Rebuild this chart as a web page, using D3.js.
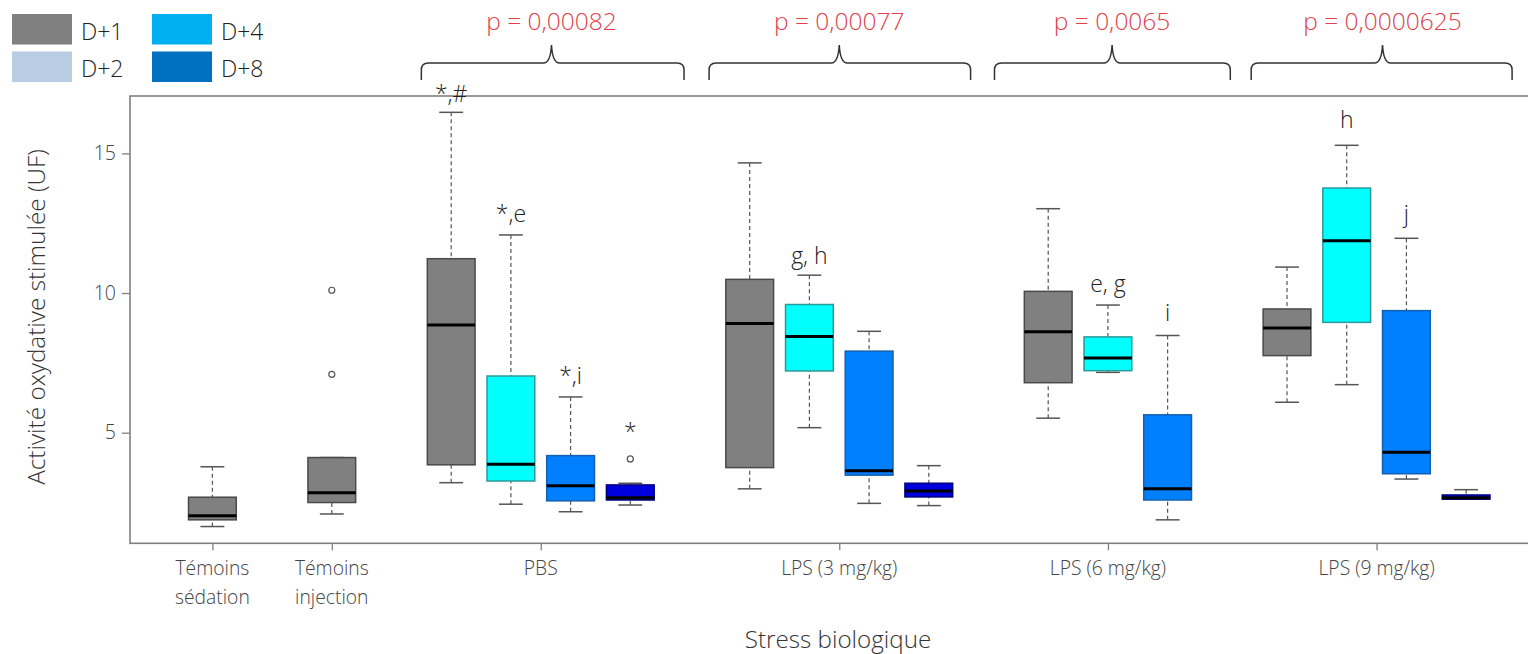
<!DOCTYPE html>
<html><head><meta charset="utf-8">
<script src="https://cdn.jsdelivr.net/npm/d3@7"></script>
<style>
html,body{margin:0;padding:0;background:#fff;}
svg{display:block;font-family:"Open Sans","Noto Sans",sans-serif;font-weight:300;}
</style></head>
<body><svg id="c" width="1528" height="654"></svg>
<script>
// ---- data ----
const groupLabels = [["Témoins","sédation"],["Témoins","injection"],["PBS"],["LPS (3 mg/kg)"],["LPS (6 mg/kg)"],["LPS (9 mg/kg)"]];
const groupTickSlot = [0, 2, 5.5, 10.5, 15, 19.5];
const legendNames = ["D+1","D+2","D+4","D+8"];
const legendColors = ["#808080","#B8CCE4","#00B0F0","#0070C0"];
const boxSlot   = [0, 2, 4, 5, 6, 7, 9, 10, 11, 12, 14, 15, 16, 18, 19, 20, 21];
const boxSeries = [0, 0, 0, 1, 2, 3, 0, 1, 2, 3, 0, 1, 2, 0, 1, 2, 3];
const whiskerLow  = [1.64, 2.09, 3.21, 2.44, 2.17, 2.41, 2.99, 5.18, 2.47, 2.39, 5.52, 7.16, 1.88, 6.09, 6.72, 3.34, 2.62];
const q1          = [1.88, 2.50, 3.85, 3.27, 2.56, 2.59, 3.75, 7.21, 3.48, 2.70, 6.79, 7.22, 2.59, 7.76, 8.95, 3.53, 2.62];
const median      = [2.03, 2.85, 8.86, 3.87, 3.10, 2.67, 8.91, 8.44, 3.64, 2.91, 8.61, 7.67, 2.99, 8.75, 11.87, 4.30, 2.67];
const q3          = [2.69, 4.11, 11.23, 7.03, 4.18, 3.13, 10.49, 9.59, 7.92, 3.19, 10.06, 8.43, 5.64, 9.43, 13.76, 9.37, 2.77];
const whiskerHigh = [3.78, 4.11, 16.47, 12.08, 6.28, 3.19, 14.66, 10.64, 8.63, 3.82, 13.02, 9.57, 8.48, 10.93, 15.29, 11.96, 2.96];
const outliers    = [[], [7.09, 10.10], [], [], [], [4.06], [], [], [], [], [], [], [], [], [], [], []];
const annotText   = ["*,#", "*,e", "*,i", "*", "g, h", "e, g", "i", "h", "j"];
const annotSlot   = [4, 5, 6, 7, 10, 15, 16, 19, 20];
const annotValue  = [16.85, 12.55, 6.75, 4.75, 11.05, 10.05, 9.0, 15.9, 12.55];
const pTexts      = ["p = 0,00082", "p = 0,00077", "p = 0,0065", "p = 0,0000625"];
const braceStart  = [3.5, 8.32, 13.1, 17.4];
const braceEnd    = [7.9, 12.7, 17.05, 21.77];
const braceTip    = [5.68, 10.5, 15.07, 19.6];
const yTicks = [5, 10, 15];

// ---- styles ----
const boxFill   = ["#808080", "#00FFFF", "#0080FF", "#0000DD"];
const boxStroke = ["#4a4a4a", "#2a9a9a", "#1460b0", "#000080"];

const svg = d3.select("#c");
const x = d3.scaleLinear().domain([-1.38, 22.07]).range([130, 1530]);
const y = d3.scaleLinear().domain([1.04, 17.055]).range([543.3, 96]);
const bw = x(0.4) - x(0);   // half box width
const cw = x(0.2) - x(0);   // half cap width

// frame
svg.append("rect").attr("x", 130).attr("y", 96).attr("width", 1420).attr("height", 447.3)
  .attr("fill", "none").attr("stroke", "#808080").attr("stroke-width", 1.6);

// y axis
const yAxis = svg.append("g").attr("transform", "translate(130,0)")
  .call(d3.axisLeft(y).tickValues(yTicks).tickSize(8).tickPadding(6).tickFormat(d3.format("d")));
yAxis.select(".domain").remove();
yAxis.selectAll(".tick line").attr("stroke", "#808080").attr("stroke-width", 1.3);
yAxis.selectAll(".tick text").attr("font-size", 19.5).attr("fill", "#444")
  .attr("font-family", "Open Sans").attr("font-weight", 300);

// x axis ticks
const xAxis = svg.append("g").attr("transform", "translate(0,543.3)")
  .call(d3.axisBottom(x).tickValues(groupTickSlot).tickSize(7).tickFormat(""));
xAxis.select(".domain").remove();
xAxis.selectAll(".tick line").attr("stroke", "#808080").attr("stroke-width", 1.3);
groupLabels.forEach((lines, i) => {
  const t = svg.append("text").attr("x", x(groupTickSlot[i])).attr("y", 575)
    .attr("text-anchor", "middle").attr("font-size", 19.3).attr("fill", "#444");
  lines.forEach((l, j) => t.append("tspan").attr("x", x(groupTickSlot[i])).attr("dy", j ? 28.5 : 0).text(l));
});

// axis titles
svg.append("text").attr("x", 838).attr("y", 648).attr("text-anchor", "middle")
  .attr("font-size", 24.2).attr("fill", "#333").text("Stress biologique");
svg.append("text").attr("transform", "translate(45,317) rotate(-90)").attr("text-anchor", "middle")
  .attr("font-size", 24.3).attr("fill", "#333").text("Activité oxydative stimulée (UF)");

// boxes
const boxes = svg.append("g").selectAll("g").data(boxSlot.map((s, i) => i)).join("g");
boxes.each(function (i) {
  const g = d3.select(this), cx = x(boxSlot[i]), s = boxSeries[i];
  [[whiskerHigh[i], q3[i]], [whiskerLow[i], q1[i]]].forEach(([w, q]) => {
    if (Math.abs(y(w) - y(q)) > 0.5)
      g.append("line").attr("x1", cx).attr("x2", cx).attr("y1", y(w)).attr("y2", y(q))
        .attr("stroke", "#555").attr("stroke-width", 1.2).attr("stroke-dasharray", "4,3");
    g.append("line").attr("x1", cx - cw).attr("x2", cx + cw).attr("y1", y(w)).attr("y2", y(w))
      .attr("stroke", "#555").attr("stroke-width", 1.5);
  });
  g.append("rect").attr("x", cx - bw).attr("width", 2 * bw)
    .attr("y", y(q3[i])).attr("height", Math.max(1, y(q1[i]) - y(q3[i])))
    .attr("fill", boxFill[s]).attr("stroke", boxStroke[s]).attr("stroke-width", 1.5);
  g.append("line").attr("x1", cx - bw).attr("x2", cx + bw).attr("y1", y(median[i])).attr("y2", y(median[i]))
    .attr("stroke", "#000").attr("stroke-width", 3);
  outliers[i].forEach(v => g.append("circle").attr("cx", cx).attr("cy", y(v)).attr("r", 3)
    .attr("fill", "#fff").attr("stroke", "#555").attr("stroke-width", 1.2));
});

// annotations
annotText.forEach((t, i) => {
  svg.append("text").attr("x", x(annotSlot[i])).attr("y", y(annotValue[i]))
    .attr("text-anchor", "middle").attr("font-size", 23).attr("fill", "#222").text(t);
});

// braces and p-values
pTexts.forEach((t, i) => {
  const x0 = x(braceStart[i]), x1 = x(braceEnd[i]), xt = x(braceTip[i]);
  const h = 63, e = 80, tp = 45, r = 7;
  const p = `M${x0},${e} L${x0},${h + r} Q${x0},${h} ${x0 + r},${h} L${xt - 8},${h} Q${xt - 1},${h} ${xt},${tp} Q${xt + 1},${h} ${xt + 8},${h} L${x1 - r},${h} Q${x1},${h} ${x1},${h + r} L${x1},${e}`;
  svg.append("path").attr("d", p).attr("fill", "none").attr("stroke", "#333").attr("stroke-width", 1.5);
  svg.append("text").attr("x", xt).attr("y", 30).attr("text-anchor", "middle")
    .attr("font-size", 24.5).attr("fill", "#E0404A").text(t);
});

// legend
legendNames.forEach((n, i) => {
  const col = Math.floor(i / 2), row = i % 2;
  const lx = 12 + col * 140, ly = 14 + row * 37.5;
  svg.append("rect").attr("x", lx).attr("y", ly).attr("width", 60).attr("height", 30.5).attr("fill", legendColors[i]);
  svg.append("text").attr("x", lx + 69).attr("y", ly + 25.5).attr("font-size", 23).attr("fill", "#222").text(n);
});
</script></body></html>
